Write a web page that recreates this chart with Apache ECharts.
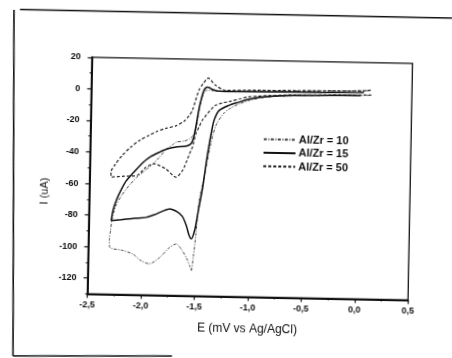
<!DOCTYPE html>
<html>
<head>
<meta charset="utf-8">
<script src="https://cdn.jsdelivr.net/npm/echarts@6/dist/echarts.min.js"></script>
<style>
  html, body { margin: 0; padding: 0; width: 452px; height: 358px; overflow: hidden; background: #fff; }
  /* the sheet sits slightly turned on the page */
  #chart { position: absolute; left: -20px; top: -20px; width: 492px; height: 398px;
           transform: rotate(1.1deg); transform-origin: 50% 50%; }
</style>
</head>
<body>
<div id="chart"></div>
<script>
// Axis ticks
const xTicks = [-2.5, -2.0, -1.5, -1.0, -0.5, 0.0, 0.5];
const yTicks = [20, 0, -20, -40, -60, -80, -100, -120];

const seriesNames = ['Al/Zr = 10', 'Al/Zr = 15', 'Al/Zr = 50'];

// Al/Zr = 10 : potential (V) and current (uA), cathodic sweep then return
const e10 = [0.10, -0.30, -0.60, -0.80, -0.92, -1.02, -1.12, -1.19, -1.25, -1.32, -1.355, -1.39, -1.43, -1.47, -1.495, -1.515, -1.532, -1.548, -1.58, -1.63, -1.676, -1.74, -1.83, -1.925, -2.00, -2.08, -2.18, -2.298,
             -2.303, -2.294, -2.282, -2.25, -2.20, -2.13, -2.05, -1.97, -1.91, -1.85, -1.79, -1.73, -1.697, -1.62, -1.573, -1.54, -1.515, -1.49, -1.465, -1.43, -1.40, -1.35, -1.30, -1.20, -0.90, -0.50, -0.20, 0.00, 0.10];
const i10 = [-0.8, -1.4, -2.0, -2.8, -3.8, -5.5, -8.0, -10.5, -13.5, -20.6, -28.0, -39.8, -55.0, -69.5, -90.7, -105.0, -114.2, -111.0, -106.0, -100.5, -97.3, -99.6, -106.1, -110.2, -108.5, -104.3, -102.0, -100.3,
             -94.7, -89.7, -82.7, -74.0, -67.5, -61.0, -55.0, -50.5, -47.0, -42.5, -37.6, -34.6, -32.8, -32.0, -30.6, -28.5, -25.2, -14.0, -5.0, 0.3, 0.5, 0.2, 0.0, 0.1, 0.6, 1.2, 1.6, 1.9, 2.2];

// Al/Zr = 15
const e15 = [0.02, -0.30, -0.60, -0.80, -0.93, -1.03, -1.12, -1.21, -1.30, -1.34, -1.36, -1.40, -1.44, -1.478, -1.505, -1.538, -1.56, -1.585, -1.624, -1.676, -1.744, -1.81, -1.89, -1.962, -2.07, -2.20, -2.289,
             -2.274, -2.241, -2.194, -2.157, -2.087, -2.006, -1.93, -1.852, -1.791, -1.697, -1.605, -1.558, -1.534, -1.512, -1.489, -1.463, -1.446, -1.43, -1.415, -1.395, -1.369, -1.335, -1.305, -1.215, -0.80, -0.30, 0.00, 0.05];
const i15 = [-1.0, -1.3, -1.8, -2.4, -3.4, -4.8, -6.8, -8.9, -12.2, -17.4, -22.9, -39.8, -61.1, -76.7, -87.7, -93.9, -91.5, -85.8, -79.9, -76.9, -75.2, -76.7, -79.1, -80.8, -81.5, -82.6, -83.3,
             -76.7, -69.6, -62.6, -58.0, -52.4, -46.3, -42.2, -39.4, -37.5, -35.9, -35.3, -33.7, -29.7, -21.7, -11.6, -3.6, 0.4, 1.9, 2.4, 2.1, 1.2, 0.4, 0.0, -0.1, 0.2, 0.5, 0.8, 1.0];

// Al/Zr = 50
const e50 = [0.12, -0.30, -0.60, -0.85, -1.03, -1.10, -1.20, -1.335, -1.455, -1.485, -1.514, -1.542, -1.557, -1.616, -1.631, -1.69, -1.79, -1.90, -1.978, -2.056, -2.176, -2.298,
             -2.30, -2.26, -2.20, -2.12, -2.04, -1.95, -1.888, -1.80, -1.702, -1.626, -1.58, -1.55, -1.493, -1.45, -1.408, -1.338, -1.243, -1.00, -0.60, -0.20, 0.05, 0.12];
const i50 = [-0.6, -1.1, -1.5, -2.2, -3.3, -4.5, -6.3, -9.0, -18.6, -22.9, -27.3, -35.7, -37.9, -48.6, -50.7, -55.0, -49.8, -46.8, -49.3, -54.4, -55.0, -55.7,
             -52.5, -47.5, -42.0, -36.5, -32.2, -28.8, -26.5, -24.3, -22.5, -19.5, -16.0, -12.5, 0.3, 5.0, 8.2, 3.7, 0.6, 1.0, 1.3, 1.6, 2.0, 2.6];

const zip = (xs, ys) => xs.map((x, k) => [x, ys[k]]);
const comma = v => v.toFixed(1).replace('.', ',');

// canvas is padded and turned; undo the turn for items placed in page coordinates
const PAD = 20, W = 492, H = 398, ANG = 1.1 * Math.PI / 180;
const CX = W / 2, CY = H / 2, COS = Math.cos(ANG), SIN = Math.sin(ANG);
function toCanvas(sx, sy) {
  const dx = sx + PAD - CX, dy = sy + PAD - CY;
  return [CX + dx * COS + dy * SIN, CY - dx * SIN + dy * COS];
}
function pageLine(a, b, w) {
  const p = toCanvas(a[0], a[1]), q = toCanvas(b[0], b[1]);
  return { type: 'line', silent: true, z: 10,
           shape: { x1: p[0], y1: p[1], x2: q[0], y2: q[1] },
           style: { stroke: '#111', lineWidth: w } };
}
const yName = toCanvas(45, 191);

const tickFont = { fontFamily: 'Liberation Sans', fontWeight: 'bold', fontSize: 9, color: '#111' };

const chart = echarts.init(document.getElementById('chart'), null, { renderer: 'canvas' });
chart.setOption({
  animation: false,
  backgroundColor: '#fff',
  color: ['#444', '#111', '#222'],
  grid: { left: 109.5, top: 79.8, right: 61.7, bottom: 81.5, show: true,
          borderColor: '#111', borderWidth: 1.3, backgroundColor: 'transparent' },
  legend: {
    data: seriesNames, orient: 'vertical', left: 277, top: 148,
    itemWidth: 32, itemHeight: 10, itemGap: 2.5,
    itemStyle: { opacity: 0 },
    textStyle: { fontFamily: 'Liberation Sans', fontWeight: 'bold', fontSize: 11, color: '#111', padding: [0, 0, 0, -2] }
  },
  xAxis: {
    type: 'value', min: -2.5, max: 0.5, interval: 0.5,
    name: 'E (mV vs Ag/AgCl)', nameLocation: 'middle', nameGap: 26,
    nameTextStyle: { fontFamily: 'Liberation Sans', fontSize: 12, color: '#111' },
    axisLine: { onZero: false, lineStyle: { color: '#111', width: 2 } },
    axisTick: { show: true, length: 4, lineStyle: { color: '#111', width: 1.2 },
                customValues: xTicks },
    minorTick: { show: true, splitNumber: 2, length: 2, lineStyle: { color: '#111', width: 1 } },
    axisLabel: Object.assign({ margin: 7, formatter: v => comma(v), customValues: xTicks }, tickFont),
    splitLine: { show: false }
  },
  yAxis: [{
    type: 'value', min: -130, max: 20, interval: 10, position: 'left',
    axisLine: { onZero: false, lineStyle: { color: '#111', width: 2 } },
    axisTick: { show: true, length: 4, lineStyle: { color: '#111', width: 1.2 }, customValues: yTicks },
    axisLabel: Object.assign({ margin: 11, formatter: v => String(v), customValues: yTicks }, tickFont),
    splitLine: { show: false }
  }, {
    type: 'value', min: -130, max: 20, interval: 10, position: 'left',
    axisLine: { show: false, onZero: false },
    axisTick: { show: true, length: 2, lineStyle: { color: '#111', width: 1 } },
    axisLabel: { show: false },
    splitLine: { show: false }
  }],
  graphic: [
    { type: 'text', silent: true, x: yName[0], y: yName[1], rotation: Math.PI / 2,
      style: { text: 'I (uA)', fontFamily: 'Liberation Sans', fontSize: 11, fill: '#111',
               align: 'center', verticalAlign: 'middle' } },
    pageLine([20, 9.5], [452, 18], 1.6),
    pageLine([14, 10], [13, 356], 1.6),
    pageLine([13, 356], [172, 356], 1.6)
  ],
  series: [
    { name: seriesNames[0], type: 'line', symbol: 'none', smooth: 0.25, data: zip(e10, i10),
      itemStyle: { color: '#444' },
      lineStyle: { color: '#444', width: 1, type: [3, 1.5, 1, 1.5] } },
    { name: seriesNames[1], type: 'line', symbol: 'none', smooth: 0.25, data: zip(e15, i15),
      itemStyle: { color: '#111' },
      lineStyle: { color: '#111', width: 1.5, type: 'solid' } },
    { name: seriesNames[2], type: 'line', symbol: 'none', smooth: 0.25, data: zip(e50, i50),
      itemStyle: { color: '#222' },
      lineStyle: { color: '#222', width: 1.2, type: [3, 2] } }
  ]
});
</script>
</body>
</html>
